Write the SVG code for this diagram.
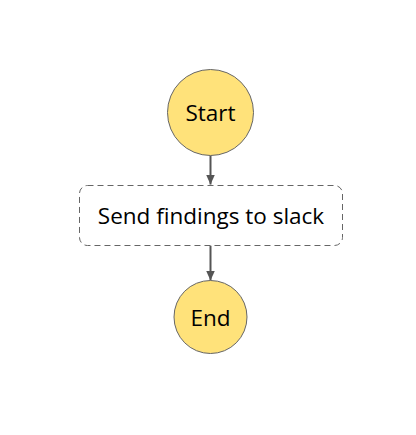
<svg xmlns="http://www.w3.org/2000/svg" width="416" height="435" viewBox="0 0 416 435">
<defs>
<style>
.state{fill:#ffe27a;stroke:#666;stroke-width:1}
.task{fill:#fff;stroke:#666;stroke-width:1;stroke-dasharray:6 4}
.lbl{font-family:"Open Sans","Noto Sans",sans-serif;font-size:22.5px;fill:#000;text-anchor:middle;dominant-baseline:central}
.edge{stroke:#555;stroke-width:2;fill:none}
</style>
<marker id="ah" viewBox="0 0 10 10" refX="10" refY="5" markerWidth="10" markerHeight="10" markerUnits="userSpaceOnUse" orient="auto">
<path d="M0,0.5 L10,5 L0,9.5 z" fill="#555"/>
</marker>
</defs>
<rect width="416" height="435" fill="#fff"/>
<g id="edges">
<path class="edge" d="M210.5,155.5 V184.5" marker-end="url(#ah)"/>
<path class="edge" d="M210.5,245.5 V280.5" marker-end="url(#ah)"/>
</g>
<g id="start">
<circle class="state" cx="210.5" cy="112.5" r="43"/>
<text class="lbl" x="210.5" y="112.5">Start</text>
</g>
<g id="task">
<rect class="task" x="79.5" y="185.5" width="263" height="60" rx="8"/>
<text class="lbl" x="211" y="215">Send findings to slack</text>
</g>
<g id="end">
<circle class="state" cx="210.5" cy="317" r="36.5"/>
<text class="lbl" x="210.5" y="317">End</text>
</g>
</svg>
